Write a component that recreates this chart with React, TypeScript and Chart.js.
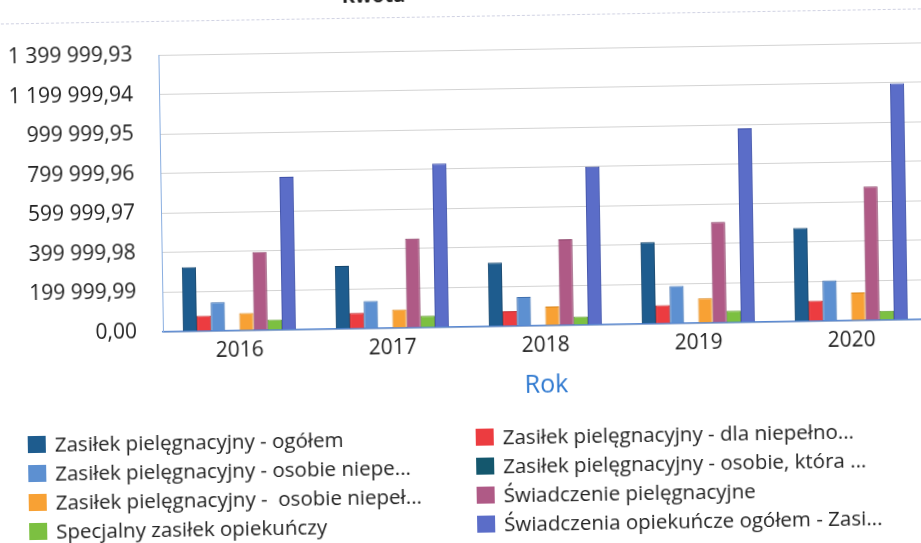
import React, { useEffect, useRef } from 'react';
import { Chart, registerables } from 'chart.js';

Chart.register(...registerables);

// Categories (years) and series values, in PLN
const years = ['2016', '2017', '2018', '2019', '2020'];

const seriesNames = [
  'Zasiłek pielęgnacyjny - ogółem',
  'Zasiłek pielęgnacyjny - dla niepełno...',
  'Zasiłek pielęgnacyjny - osobie niepe...',
  'Zasiłek pielęgnacyjny - osobie, która ...',
  'Zasiłek pielęgnacyjny -  osobie niepeł...',
  'Świadczenie pielęgnacyjne',
  'Specjalny zasiłek opiekuńczy',
  'Świadczenia opiekuńcze ogółem - Zasi...',
];

const zasilekOgolem = [325000, 318000, 322000, 413000, 472000];
const zasilekDlaNiepelnosprawnego = [78000, 80000, 76000, 94000, 104000];
const zasilekOsobieNiepelnosprawnej = [145000, 139000, 147000, 190000, 205000];
const zasilekOsobieKtora = [0, 0, 0, 0, 0];
const zasilekOsobieNiepelnosprawnejPow75 = [88000, 94000, 96000, 125000, 141000];
const swiadczeniePielegnacyjne = [395000, 451000, 435000, 509000, 676000];
const specjalnyZasilekOpiekunczy = [53000, 59000, 43000, 59000, 47000];
const swiadczeniaOpiekunczeOgolem = [773000, 828000, 800000, 981000, 1195000];

const seriesValues = [
  zasilekOgolem,
  zasilekDlaNiepelnosprawnego,
  zasilekOsobieNiepelnosprawnej,
  zasilekOsobieKtora,
  zasilekOsobieNiepelnosprawnejPow75,
  swiadczeniePielegnacyjne,
  specjalnyZasilekOpiekunczy,
  swiadczeniaOpiekunczeOgolem,
];

const seriesColors = ['#1e5c8e', '#ec3c40', '#5d90d1', '#14576d', '#f8a134', '#af5a86', '#7cc041', '#5b6dc8'];
const seriesBorders = ['#15466d', '#c02a2e', '#3f6fae', '#0d3f50', '#d98316', '#8a3f66', '#5e9a2c', '#3e50a8'];

// Value axis ticks
const yTickValues = [0, 199999.99, 399999.98, 599999.97, 799999.96, 999999.95, 1199999.94, 1399999.93];
const yTickLabels = ['0,00', '199 999,99', '399 999,98', '599 999,97', '799 999,96', '999 999,95', '1 199 999,94', '1 399 999,93'];

const FONT = "'Open Sans', 'Noto Sans', sans-serif";

export default function App() {
  const canvasRef = useRef<HTMLCanvasElement | null>(null);

  useEffect(() => {
    document.body.style.overflow = 'hidden';
    const canvas = canvasRef.current;
    if (!canvas) return;
    const chart = new Chart(canvas, {
      type: 'bar',
      data: {
        labels: years,
        datasets: seriesValues.map((values, i) => ({
          label: seriesNames[i],
          data: values,
          backgroundColor: seriesColors[i],
          borderColor: seriesBorders[i],
          borderWidth: 1,
          categoryPercentage: 0.74,
          barPercentage: 1,
        })),
      },
      options: {
        animation: false,
        responsive: false,
        maintainAspectRatio: false,
        layout: { padding: { top: 48, right: 13, left: 0, bottom: 0 } },
        plugins: { legend: { display: false }, tooltip: { enabled: false } },
        scales: {
          x: {
            grid: { display: false, drawTicks: false },
            border: { display: true, color: '#5586d2', width: 1.5 },
            ticks: { color: '#222', font: { family: FONT, size: 21 }, padding: 7, maxRotation: 0 },
            title: {
              display: true,
              text: 'Rok',
              color: '#2f79d0',
              font: { family: FONT, size: 25 },
              padding: { top: 0, bottom: 20 },
            },
            afterFit: (scale: any) => {
              scale.height = 95;
            },
          },
          y: {
            min: 0,
            max: 1399999.93,
            grid: { color: '#d3d3d3', drawTicks: false },
            border: { display: true, color: '#8aaee0', width: 1 },
            ticks: {
              color: '#222',
              font: { family: FONT, size: 21 },
              padding: 26,
              callback: (_v: any, index: number) => yTickLabels[index],
            },
            afterBuildTicks: (scale: any) => {
              scale.ticks = yTickValues.map((v) => ({ value: v }));
            },
            afterFit: (scale: any) => {
              scale.width = 162;
            },
          },
        },
      },
    });
    return () => chart.destroy();
  }, []);

  // Legend laid out in two columns, filled row by row
  const rows: number[][] = [];
  for (let i = 0; i < seriesNames.length; i += 2) rows.push([i, i + 1]);

  return (
    <div
      style={{
        position: 'fixed',
        left: 0,
        top: 0,
        width: 940,
        height: 580,
        background: '#fff',
        fontFamily: FONT,
        transform: 'rotate(-0.94deg)',
        transformOrigin: '460px 271px',
      }}
    >
      <div
        style={{
          position: 'absolute',
          left: 278,
          width: 200,
          top: -18,
          textAlign: 'center',
          fontSize: 20,
          lineHeight: '24px',
          fontWeight: 700,
          color: '#222',
        }}
      >
        Kwota
      </div>
      <div style={{ position: 'absolute', left: 0, top: 16, width: 940, borderTop: '1px dashed #cfd1e2' }} />
      <canvas ref={canvasRef} width={940} height={420} style={{ position: 'absolute', left: 0, top: 2, display: 'block' }} />
      {rows.map((pair, r) =>
        pair.map((idx, c) => (
          <div
            key={idx}
            style={{
              position: 'absolute',
              left: c === 0 ? 25 : 473,
              top: 437 + r * 29 - 14,
              height: 28,
              display: 'flex',
              alignItems: 'center',
              whiteSpace: 'pre',
            }}
          >
            <span
              style={{
                display: 'inline-block',
                width: 18,
                height: 17,
                background: seriesColors[idx],
                marginRight: 9,
              }}
            />
            <span style={{ fontSize: 20.5, color: '#222', lineHeight: '28px' }}>{seriesNames[idx]}</span>
          </div>
        ))
      )}
    </div>
  );
}
